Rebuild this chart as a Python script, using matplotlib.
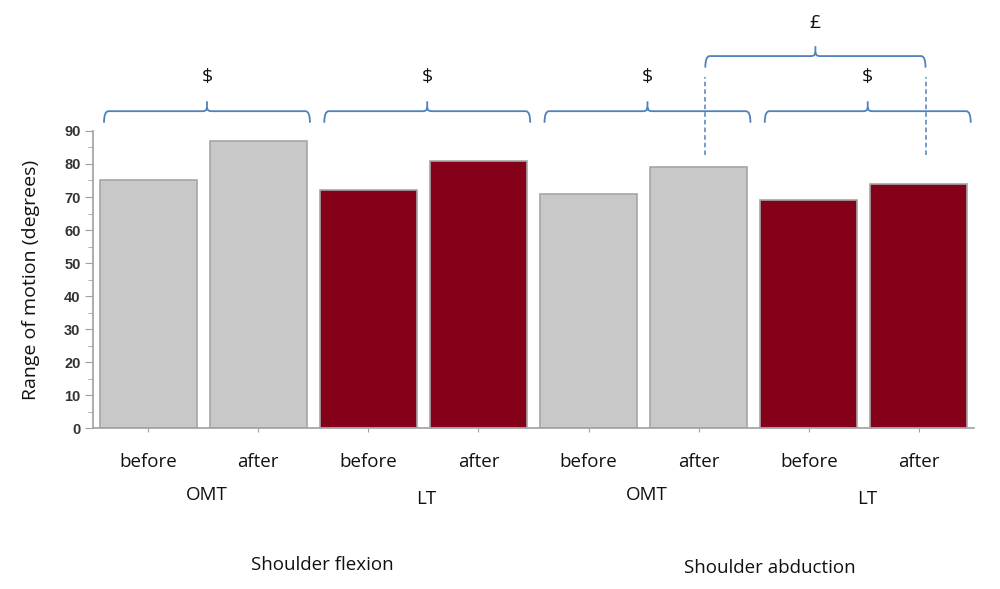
import matplotlib.pyplot as plt
from matplotlib.path import Path
from matplotlib.patches import PathPatch
from matplotlib import transforms

# data
conditions = ["before", "after", "before", "after", "before", "after", "before", "after"]
treatments = ["OMT", "LT", "OMT", "LT"]
movements = ["Shoulder flexion", "Shoulder abduction"]
rom_values = [75, 87, 72, 81, 71, 79, 69, 74]
bar_colors = ["#c8c8c8", "#c8c8c8", "#850019", "#850019",
              "#c8c8c8", "#c8c8c8", "#850019", "#850019"]
pair_marks = ["$", "$", "$", "$"]
cross_mark = "£"

plt.rcParams['font.family'] = ['Open Sans', 'DejaVu Sans']

fig = plt.figure(figsize=(10, 5.89), dpi=100)
ax = fig.add_axes([0.093, 0.2733, 0.881, 0.5043])

x = list(range(len(rom_values)))
ax.bar(x, rom_values, width=0.88, color=bar_colors, edgecolor="#a6a6a6", linewidth=1.2)

ax.set_xlim(-0.5, len(x) - 0.5)
ax.set_ylim(0, 90)
ax.set_yticks(range(0, 91, 10))
ax.set_yticks(range(5, 90, 10), minor=True)
ax.tick_params(axis='y', which='major', length=6, color="#a0a0a0", labelsize=10.5,
               labelcolor="#333333", pad=3)
ax.tick_params(axis='y', which='minor', length=3.5, color="#a0a0a0")
for lab in ax.get_yticklabels():
    lab.set_fontfamily(['Liberation Sans', 'DejaVu Sans'])
    lab.set_fontweight('bold')

ax.set_xticks(x)
ax.set_xticklabels(conditions, fontsize=13.5, color="#111111")
ax.tick_params(axis='x', length=3, color="#a0a0a0", pad=15)

for side in ["top", "right"]:
    ax.spines[side].set_visible(False)
for side in ["left", "bottom"]:
    ax.spines[side].set_color("#a0a0a0")
    ax.spines[side].set_linewidth(1.2)

ax.set_ylabel("Range of motion (degrees)", fontsize=14, color="#111111")
ax.yaxis.set_label_coords(-0.060, 0.5)

# group labels below the axis
blend = transforms.blended_transform_factory(ax.transData, fig.transFigure)
for k, name in enumerate(treatments):
    xc = 2 * k + 0.53
    yy = 1 - (495 if name == "OMT" else 499) / 589
    ax.text(xc, yy, name, transform=blend, ha="center", va="center",
            fontsize=13.5, color="#111111")
for k, name in enumerate(movements):
    xc = 1.58 + 4.07 * k
    yy = 1 - (565 + 3 * k) / 589
    ax.text(xc, yy, name, transform=blend, ha="center", va="center",
            fontsize=13.5, color="#111111")


def brace(x0, x1, y, rx=0.04, ry=1.2, drop=3.5, tip=3.0, color="#4f81bd"):
    xm = (x0 + x1) / 2
    verts = [
        (x0, y - drop), (x0, y), (x0 + rx, y),
        (xm - rx, y), (xm, y), (xm, y + ry),
        (xm, y + tip),
        (xm, y + ry), (xm, y), (xm + rx, y),
        (x1 - rx, y), (x1, y), (x1, y - drop),
    ]
    codes = [
        Path.MOVETO, Path.CURVE3, Path.CURVE3,
        Path.LINETO, Path.CURVE3, Path.CURVE3,
        Path.LINETO,
        Path.MOVETO, Path.CURVE3, Path.CURVE3,
        Path.LINETO, Path.CURVE3, Path.CURVE3,
    ]
    ax.add_patch(PathPatch(Path(verts, codes), fill=False, edgecolor=color,
                           linewidth=1.3, clip_on=False))
    return xm


# within-group comparison braces
for k, mark in enumerate(pair_marks):
    i, j = 2 * k, 2 * k + 1
    xm = brace(i - 0.4, j + 0.47, 96.0)
    ax.text(xm, 106.5, mark, ha="center", va="center", fontsize=14,
            color="#111111", clip_on=False)

# between-group comparison (after OMT vs after LT, abduction)
xm = brace(5.06, 7.06, 112.7)
ax.text(xm, 122.7, cross_mark, ha="center", va="center", fontsize=14,
        color="#111111", clip_on=False)
for xd in (5.06, 7.06):
    ax.plot([xd, xd], [82.7, 106.3], linestyle=(0, (3, 2)), color="#4f81bd",
            linewidth=1.1, clip_on=False)

fig.savefig("out.png", dpi=100)
